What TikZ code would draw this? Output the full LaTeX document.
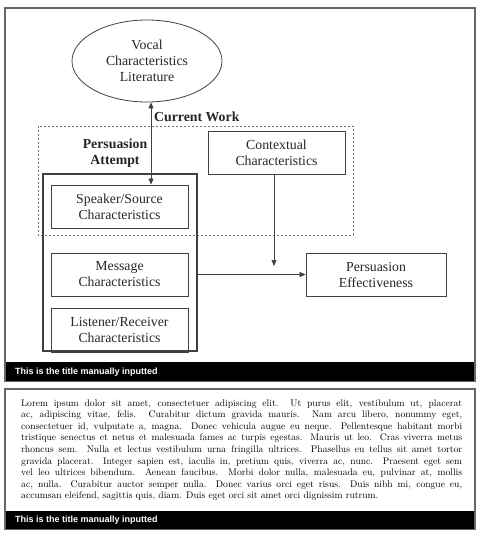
\documentclass[tikz,border=0pt]{standalone}
\usepackage{fontspec}
\newfontfamily\diagfont{Liberation Serif}
\newfontfamily\titlefont{Liberation Sans}
\usetikzlibrary{shapes.geometric, arrows.meta}
\begin{document}
\begin{tikzpicture}[x=1pt,y=-1pt,
  fig/.style={font=\diagfont\fontsize{13.8}{16}\selectfont, text=black!85},
  cbox/.style={fig, draw=black!75, line width=0.8pt, minimum width=137pt, minimum height=43pt, align=center, inner sep=0pt},
  conn/.style={draw=black!75, line width=0.7pt},
  tip/.style={conn, -{Triangle[length=6pt,width=5pt]}},
  btip/.style={conn, {Triangle[length=6pt,width=5pt]}-{Triangle[length=6pt,width=5pt]}},
  framecol/.style={fill=black!60},
  bartitle/.style={anchor=west, text=white, inner sep=0pt, font=\titlefont\bfseries\fontsize{9}{10}\selectfont}]
\useasboundingbox (0,0) rectangle (482,536);
\fill[white] (0,0) rectangle (482,536);
% box 1 frame
\fill[framecol] (4,7) rectangle (476,382);
\fill[white] (6,9) rectangle (474,362);
\fill[black] (6,362) rectangle (474,381);
\node[bartitle] (t1) at (15,372) {This is the title manually inputted};
% box 2 frame
\fill[framecol] (4,388) rectangle (476,530);
\fill[white] (6,390) rectangle (474,511);
\fill[black] (6,511) rectangle (474,529);
\node[bartitle] (t2) at (15,520) {This is the title manually inputted};
% diagram
\draw[black!55, line width=0.7pt, dash pattern=on 2pt off 2pt] (38,126) rectangle (353,235);
\node[fig, ellipse, draw=black!75, line width=0.8pt, minimum width=150pt, minimum height=82pt, align=center, inner sep=0pt] (vocal) at (147,61) {Vocal\\Characteristics\\Literature};
\node[fig, anchor=west, inner sep=0pt, font=\diagfont\bfseries\fontsize{13.8}{16}\selectfont] (cw) at (154,117) {Current Work};
\node[fig, align=center, inner sep=0pt, font=\diagfont\bfseries\fontsize{13.8}{16}\selectfont] (pa) at (115,153) {Persuasion\\Attempt};
\node[cbox] (ctx) at (276.5,152.5) {Contextual\\Characteristics};
\node[draw=black!75, line width=1.1pt, minimum width=154pt, minimum height=177pt, inner sep=0pt] (outer) at (120,262.5) {};
\node[cbox] (spk) at (119.5,206.5) {Speaker/Source\\Characteristics};
\node[cbox] (msg) at (119.5,274.5) {Message\\Characteristics};
\node[cbox, minimum height=44pt] (lst) at (119.5,330) {Listener/Receiver\\Characteristics};
\node[cbox, minimum width=140pt] (eff) at (376,274.5) {Persuasion\\Effectiveness};
\coordinate (ax) at (151,0);
\coordinate (ctxend) at (274,266);
\draw[btip] (vocal.south -| ax) -- (spk.north -| ax);
\draw[tip] (ctx.south -| ctxend) -- (ctxend);
\draw[tip] (outer.east |- eff.west) -- (eff.west);
% text box
\node[anchor=base west, inner sep=0pt] (lorem) at (21,406) {\parbox[t]{441pt}{\fontsize{9.6}{11.6}\selectfont
Lorem ipsum dolor sit amet, consectetuer adipiscing elit. Ut purus elit, vestibulum ut, placerat\linebreak
ac, adipiscing vitae, felis. Curabitur dictum gravida mauris. Nam arcu libero, nonummy eget,\linebreak
consectetuer id, vulputate a, magna. Donec vehicula augue eu neque. Pellentesque habitant morbi\linebreak
tristique senectus et netus et malesuada fames ac turpis egestas. Mauris ut leo. Cras viverra metus\linebreak
rhoncus sem. Nulla et lectus vestibulum urna fringilla ultrices. Phasellus eu tellus sit amet tortor\linebreak
gravida placerat. Integer sapien est, iaculis in, pretium quis, viverra ac, nunc. Praesent eget sem\linebreak
vel leo ultrices bibendum. Aenean faucibus. Morbi dolor nulla, malesuada eu, pulvinar at, mollis\linebreak
ac, nulla. Curabitur auctor semper nulla. Donec varius orci eget risus. Duis nibh mi, congue eu,\linebreak
accumsan eleifend, sagittis quis, diam. Duis eget orci sit amet orci dignissim rutrum.}};
\end{tikzpicture}
\end{document}
